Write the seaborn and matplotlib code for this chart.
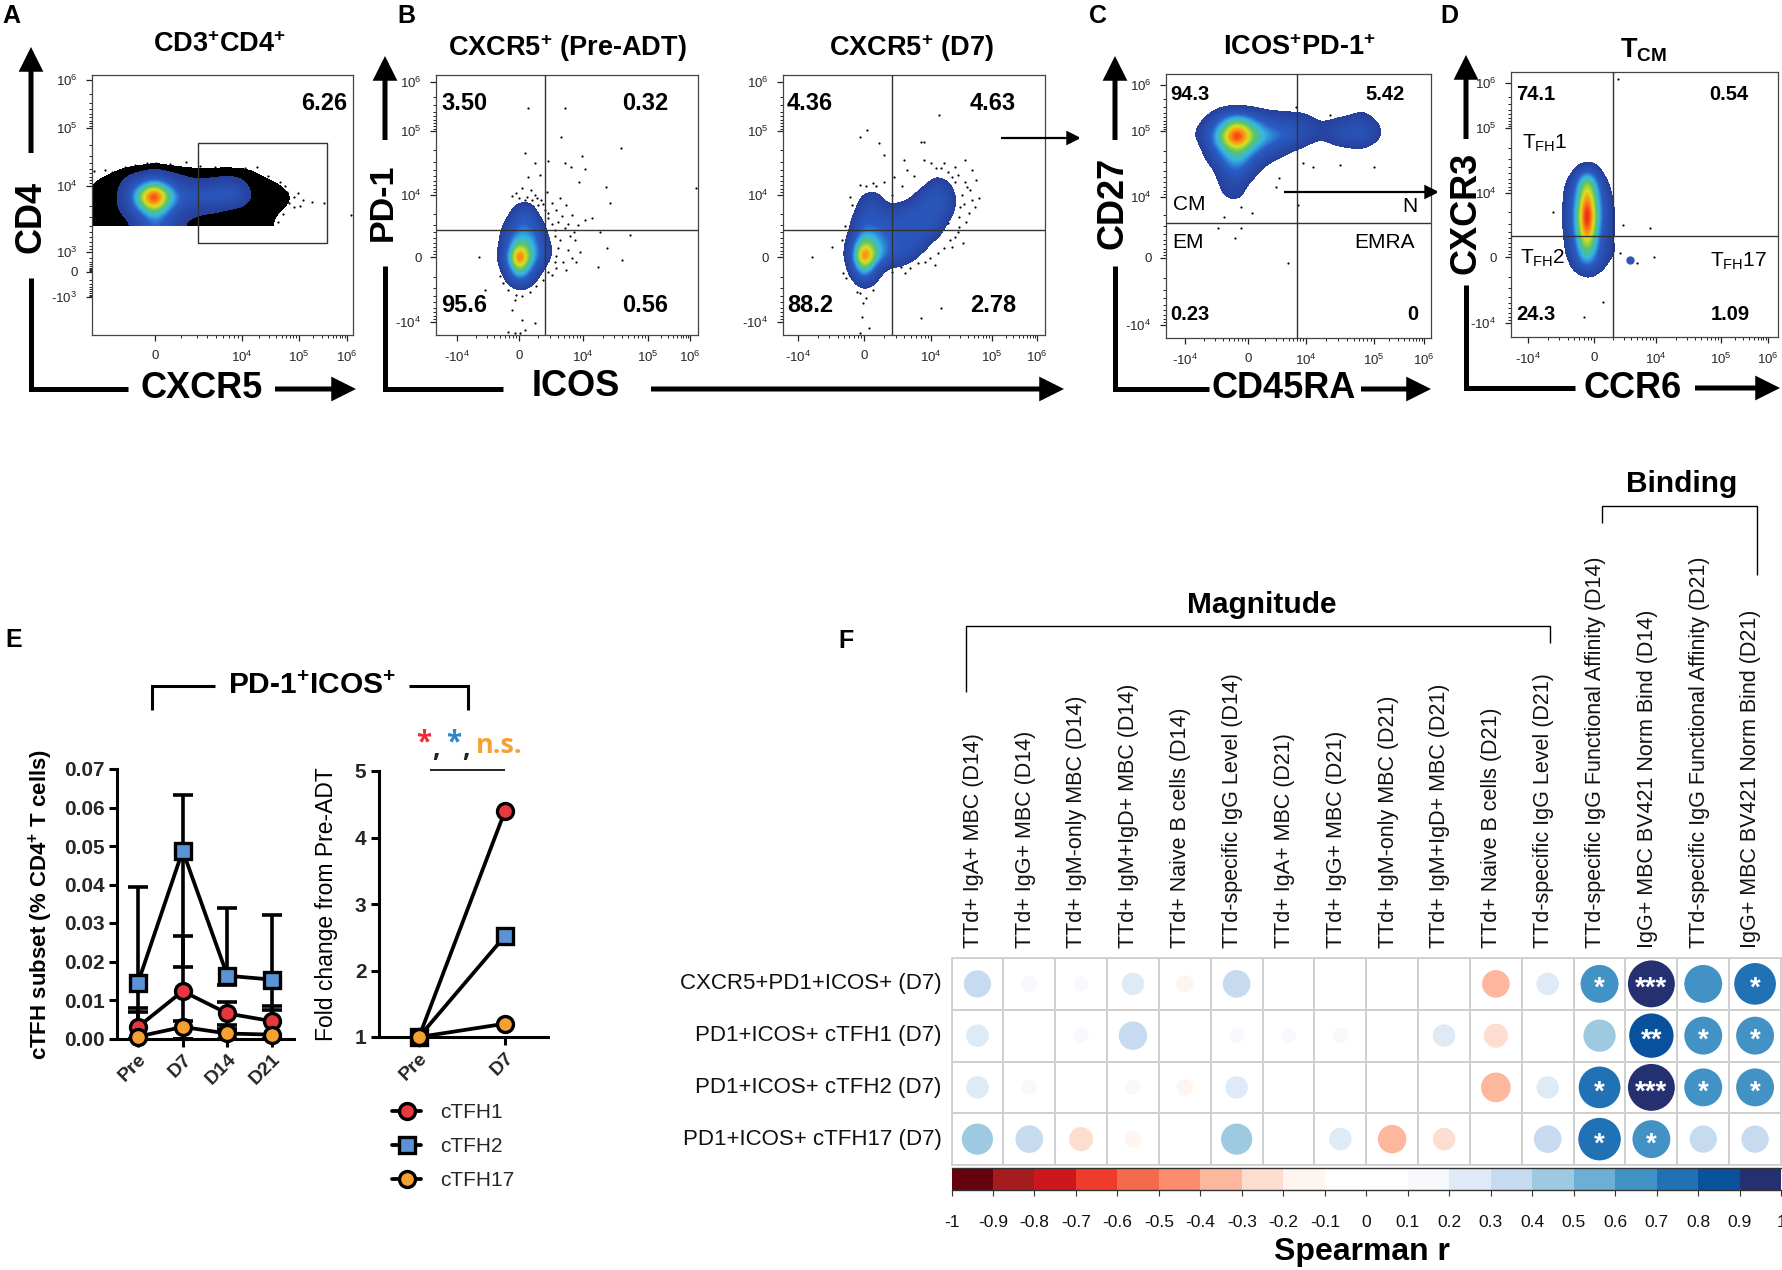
import numpy as np
import pandas as pd
import seaborn as sns
import matplotlib
matplotlib.use("Agg")
import matplotlib.pyplot as plt
from matplotlib.colors import ListedColormap, LinearSegmentedColormap
from matplotlib.lines import Line2D
from matplotlib.patches import Rectangle

W, H = 1782, 1270

# ---- flow panels: density tables (picture pixel units)
dens_A_x = [83 + 12 * i for i in range(21)]
dens_A_y = [160, 172, 184, 196, 208, 220]
dens_A = [
    [0, 0, 0, 0, 0, 0, 0, 0, 0, 0, 0, 0, 0, 0, 0, 0, 0, 0, 0, 0, 0],
    [0, 1, 3, 5, 7, 9, 13, 9, 7, 6, 6, 6, 6, 6, 5, 3, 1, 0, 0, 0, 0],
    [2, 5, 7, 8, 20, 34, 46, 32, 20, 14, 13, 15, 18, 15, 7, 6, 5, 3, 1, 0, 0],
    [3, 6, 7, 9, 30, 70, 100, 60, 32, 28, 30, 32, 33, 28, 9, 7, 6, 5, 3, 1, 0],
    [3, 6, 7, 9, 22, 46, 65, 40, 24, 17, 13, 12, 9, 7, 6, 6, 5, 4, 2, 0, 0],
    [2, 5, 6, 7, 9, 22, 34, 24, 12, 8, 7, 7, 6, 6, 6, 5, 4, 2, 0, 0, 0],
]
dens_B1_x = [489, 499, 509, 519, 529, 539, 549, 559]
dens_B1_y = [197, 209, 221, 233, 245, 257, 269, 281, 293]
dens_B1 = [
    [0, 0, 0, 0, 0, 0, 0, 0],
    [0, 0, 4, 22, 24, 4, 0, 0],
    [0, 2, 16, 30, 30, 16, 2, 0],
    [0, 7, 26, 36, 36, 28, 6, 0],
    [0, 10, 30, 55, 48, 30, 14, 0],
    [0, 12, 38, 100, 55, 32, 15, 0],
    [0, 8, 28, 60, 38, 18, 2, 0],
    [0, 0, 16, 30, 22, 6, 0, 0],
    [0, 0, 0, 4, 2, 0, 0, 0],
]
dens_B2_x = [840 + 12 * i for i in range(12)]
dens_B2_y = [172 + 12 * i for i in range(12)]
dens_B2 = [
    [0, 0, 0, 0, 0, 0, 0, 0, 4, 0, 0, 0],
    [0, 0, 0, 4, 0, 0, 0, 6, 22, 14, 0, 0],
    [0, 0, 14, 16, 2, 0, 8, 24, 26, 22, 4, 0],
    [0, 4, 22, 24, 14, 18, 24, 26, 26, 22, 3, 0],
    [0, 10, 28, 26, 24, 26, 26, 26, 26, 12, 0, 0],
    [0, 14, 38, 34, 28, 26, 26, 26, 20, 3, 0, 0],
    [2, 22, 65, 45, 30, 26, 26, 18, 4, 0, 0, 0],
    [3, 25, 100, 50, 30, 26, 18, 5, 0, 0, 0, 0],
    [0, 18, 60, 25, 8, 8, 2, 0, 0, 0, 0, 0],
    [0, 8, 28, 12, 0, 0, 0, 0, 0, 0, 0, 0],
    [0, 0, 6, 2, 0, 0, 0, 0, 0, 0, 0, 0],
    [0, 0, 0, 0, 0, 0, 0, 0, 0, 0, 0, 0],
]
dens_C_x = [1195 + 14 * i for i in range(15)]
dens_C_y = [101 + 12 * i for i in range(10)]
dens_C = [
    [0, 0, 0, 0, 0, 0, 0, 0, 0, 0, 0, 0, 0, 0, 0],
    [0, 8, 22, 28, 22, 14, 12, 11, 10, 2, 4, 6, 14, 2, 0],
    [6, 22, 42, 68, 48, 32, 26, 24, 20, 12, 18, 22, 24, 14, 0],
    [8, 26, 60, 100, 60, 42, 36, 28, 20, 12, 20, 24, 26, 16, 0],
    [2, 20, 42, 60, 42, 28, 18, 12, 6, 1, 6, 8, 10, 2, 0],
    [0, 12, 30, 45, 28, 14, 8, 2, 0, 0, 0, 0, 0, 0, 0],
    [0, 0, 22, 30, 18, 3, 0, 0, 0, 0, 0, 0, 0, 0, 0],
    [0, 0, 14, 20, 6, 0, 0, 0, 0, 0, 0, 0, 0, 0, 0],
    [0, 0, 10, 16, 2, 0, 0, 0, 0, 0, 0, 0, 0, 0, 0],
    [0, 0, 0, 0, 0, 0, 0, 0, 0, 0, 0, 0, 0, 0, 0],
]
dens_D_x = [1557 + 10 * i for i in range(8)]
dens_D_y = [157 + 12 * i for i in range(12)]
dens_D = [
    [0, 0, 0, 0, 0, 0, 0, 0],
    [0, 0, 14, 26, 16, 0, 0, 0],
    [0, 10, 30, 62, 34, 10, 0, 0],
    [0, 16, 36, 78, 40, 18, 2, 0],
    [0, 18, 40, 92, 44, 20, 6, 0],
    [0, 18, 42, 100, 46, 20, 8, 0],
    [0, 18, 40, 92, 42, 18, 8, 0],
    [0, 14, 36, 72, 38, 16, 7, 0],
    [0, 12, 30, 56, 32, 16, 10, 0],
    [0, 4, 24, 36, 24, 10, 2, 0],
    [0, 0, 3, 10, 6, 0, 0, 0],
    [0, 0, 0, 0, 0, 0, 0, 0],
]

# single events outside the density
dots_A = [(275, 197), (282, 200), (287, 192), (294, 197), (289, 203), (303, 200), (312, 202), (324, 203), (351, 215),
          (271, 187), (275, 213), (269, 220), (112, 172), (94, 171), (186, 162), (156, 163), (147, 163), (230, 170),
          (257, 167), (280, 182), (298, 193), (87, 187), (92, 213), (99, 222), (294, 207), (125, 167), (135, 165),
          (170, 164), (200, 166), (215, 167), (245, 168), (268, 176), (285, 186), (300, 206), (283, 214), (278, 222),
          (90, 200), (88, 220), (105, 170)]
dots_B1 = [(528, 108), (565, 108), (561, 137), (621, 148), (525, 153), (582, 156), (535, 163), (548, 161), (565, 163),
           (571, 167), (585, 169), (528, 177), (579, 182), (606, 187), (696, 188), (540, 175), (531, 190), (516, 193),
           (522, 188), (527, 197), (535, 195), (541, 200), (547, 192), (552, 203), (556, 210), (560, 198), (548, 213),
           (558, 222), (566, 205), (572, 215), (578, 225), (585, 220), (592, 218), (600, 232), (610, 203), (575, 240),
           (568, 250), (560, 240), (563, 262), (572, 258), (580, 252), (556, 268), (552, 275), (607, 248), (630, 235),
           (598, 267), (622, 260), (555, 230), (565, 228), (570, 236), (545, 210), (538, 205), (479, 257), (485, 290),
           (515, 300), (512, 310), (522, 320), (535, 323), (508, 332), (515, 333), (520, 333), (525, 330),
           (512, 196), (519, 198), (525, 200), (532, 200), (537, 198), (543, 204), (548, 218), (552, 224), (555, 236),
           (558, 248), (556, 256), (555, 262), (548, 272), (543, 280), (536, 286), (530, 292), (522, 296), (516, 295),
           (508, 290), (503, 283), (500, 276), (562, 216), (568, 224), (574, 232), (576, 262), (566, 270)]
dots_B2 = [(867, 130), (860, 137), (939, 115), (879, 143), (884, 155), (904, 160), (921, 142), (965, 160), (972, 170),
           (955, 167), (976, 180), (979, 198), (967, 187), (960, 207), (969, 213), (959, 227), (955, 237), (952, 247),
           (938, 253), (918, 263), (901, 267), (924, 160), (941, 168), (907, 170), (894, 177), (884, 182), (873, 183),
           (860, 185), (850, 197), (832, 247), (812, 257), (843, 273), (860, 293), (873, 290), (863, 303), (862, 317),
           (869, 328), (860, 333), (921, 318), (941, 308), (948, 223), (959, 217), (972, 200), (924, 142), (931, 163),
           (952, 177), (962, 195), (955, 182), (936, 168), (948, 172), (958, 175), (965, 182), (964, 204), (966, 222),
           (958, 232), (950, 240), (944, 248), (930, 258), (925, 262), (910, 268), (892, 272), (914, 176), (902, 186),
           (892, 195), (944, 163), (970, 190), (975, 207), (963, 243), (935, 265), (905, 273), (857, 292), (866, 298),
           (845, 226), (842, 240), (876, 186), (866, 186), (852, 205), (846, 278)]
dots_C = [(1296, 107), (1330, 115), (1347, 117), (1241, 207), (1252, 213), (1224, 217), (1218, 228), (1241, 228),
          (1235, 238), (1279, 178), (1276, 187), (1303, 163), (1313, 167), (1340, 165), (1374, 167), (1288, 263),
          (1298, 205)]
dots_D = [(1618, 79), (1553, 212), (1623, 225), (1650, 228), (1654, 257), (1637, 263), (1603, 302), (1584, 317),
          (1592, 163), (1620, 253)]
spot_D = (1630, 260)

# ---- panel E
time_long = ["Pre", "D7", "D14", "D21"]
time_short = ["Pre", "D7"]
subsets = ["cTFH1", "cTFH2", "cTFH17"]
subset_colors = {"cTFH1": "#e8383f", "cTFH2": "#5b94d6", "cTFH17": "#f5a033"}
subset_markers = {"cTFH1": "o", "cTFH2": "s", "cTFH17": "o"}
mean_cTFH1 = [0.0030, 0.0123, 0.0065, 0.0045]
mean_cTFH2 = [0.0145, 0.0488, 0.0163, 0.0153]
mean_cTFH17 = [0.0005, 0.0030, 0.0013, 0.0010]
upper_cTFH1 = [0.0078, 0.0265, 0.0095, 0.0085]
upper_cTFH2 = [0.0393, 0.0633, 0.0340, 0.0322]
upper_cTFH17 = [0.0068, 0.0045, 0.0025, 0.0075]
lower_cTFH1 = [0.0, 0.0, 0.0035, 0.0]
lower_cTFH2 = [0.0, 0.0185, 0.0138, 0.0]
lower_cTFH17 = [0.0, 0.0, 0.0, 0.0]
fold_cTFH1 = [1, 4.4]
fold_cTFH2 = [1, 2.52]
fold_cTFH17 = [1, 1.2]

# ---- panel F
row_labels = ["CXCR5+PD1+ICOS+ (D7)", "PD1+ICOS+ cTFH1 (D7)", "PD1+ICOS+ cTFH2 (D7)", "PD1+ICOS+ cTFH17 (D7)"]
col_labels = ["TTd+ IgA+ MBC (D14)", "TTd+ IgG+ MBC (D14)", "TTd+ IgM-only MBC (D14)", "TTd+ IgM+IgD+ MBC (D14)",
              "TTd+ Naive B cells (D14)", "TTd-specific IgG Level (D14)", "TTd+ IgA+ MBC (D21)", "TTd+ IgG+ MBC (D21)",
              "TTd+ IgM-only MBC (D21)", "TTd+ IgM+IgD+ MBC (D21)", "TTd+ Naive B cells (D21)",
              "TTd-specific IgG Level (D21)", "TTd-specific IgG Functional Affinity (D14)",
              "IgG+ MBC BV421 Norm Bind (D14)", "TTd-specific IgG Functional Affinity (D21)",
              "IgG+ MBC BV421 Norm Bind (D21)"]
corr_r = [
    [0.32, 0.11, 0.10, 0.22, -0.13, 0.33, 0, 0.09, 0, 0.08, -0.33, 0.22, 0.62, 0.95, 0.62, 0.75],
    [0.22, 0, 0.10, 0.35, 0, 0.10, 0.10, 0.10, 0, 0.22, -0.25, 0, 0.45, 0.85, 0.62, 0.62],
    [0.22, 0.10, 0, 0.10, -0.12, 0.22, 0, 0, 0, 0, -0.38, 0.22, 0.75, 0.95, 0.62, 0.62],
    [0.42, 0.33, -0.25, -0.13, 0, 0.42, 0, 0.22, -0.35, -0.22, 0, 0.33, 0.78, 0.62, 0.32, 0.32],
]
corr_sig = [
    ["", "", "", "", "", "", "", "", "", "", "", "", "*", "***", "", "*"],
    ["", "", "", "", "", "", "", "", "", "", "", "", "", "**", "*", "*"],
    ["", "", "", "", "", "", "", "", "", "", "", "", "*", "***", "*", "*"],
    ["", "", "", "", "", "", "", "", "", "", "", "", "*", "*", "", ""],
]
cbar_colors = ["#67000d", "#a51c1e", "#cb181d", "#ef3b2c", "#f46a4c", "#fb8d6e", "#fcb79d", "#fdddcf", "#fff5f0",
               "#ffffff", "#ffffff", "#f7f9fd", "#deebf7", "#c6dbef", "#9ecae1", "#6baed6", "#4292c6", "#2171b5",
               "#08519c", "#253070"]
cbar_ticks = ["-1", "-0.9", "-0.8", "-0.7", "-0.6", "-0.5", "-0.4", "-0.3", "-0.2", "-0.1", "0", "0.1", "0.2", "0.3",
              "0.4", "0.5", "0.6", "0.7", "0.8", "0.9", "1"]

sns.set_theme(style="ticks")
plt.rcParams["font.family"] = ["Liberation Sans", "DejaVu Sans"]
plt.rcParams["mathtext.fontset"] = "custom"
plt.rcParams["mathtext.rm"] = "Liberation Sans"
plt.rcParams["mathtext.it"] = "Liberation Sans:italic"
plt.rcParams["mathtext.bf"] = "Liberation Sans:bold"

fig = plt.figure(figsize=(W / 100, H / 100), dpi=100, facecolor="white")


def px_ax(x0, y0, x1, y1):
    return fig.add_axes([x0 / W, 1 - y1 / H, (x1 - x0) / W, (y1 - y0) / H])


flow_cmap = LinearSegmentedColormap.from_list(
    "flow", [(0, "#27409b"), (0.22, "#2a5cc4"), (0.34, "#35b5e5"), (0.46, "#5cc46a"),
             (0.58, "#d8e020"), (0.68, "#ff8c10"), (0.8, "#e8101a"), (1, "#e8101a")])
flow_cmap.set_under((0, 0, 0, 0))
halo_cmap = ListedColormap(["black"])
halo_cmap.set_under((0, 0, 0, 0))


def minors(majors):
    out = []
    for a, b in zip(majors[:-1], majors[1:]):
        out += [a + (b - a) * np.log10(k) for k in range(2, 10)]
    return out


def flow_panel(box, xt, xl, yt, yl, dens=None, dx=None, dy=None, dots=(), cross=None, halo=False):
    ax = px_ax(*box)
    if dens is not None:
        sx = dx[1] - dx[0]
        sy = dy[1] - dy[0]
        ext = (dx[0] - sx / 2, dx[-1] + sx / 2, dy[-1] + sy / 2, dy[0] - sy / 2)
        if halo:
            ax.imshow(np.array(dens, float), cmap=halo_cmap, vmin=4, vmax=9, extent=ext, aspect="auto",
                      interpolation="bicubic", zorder=1)
        ax.imshow(np.array(dens, float), cmap=flow_cmap, vmin=10, vmax=100, extent=ext, aspect="auto",
                  interpolation="bicubic", zorder=2)
    if len(dots):
        d = pd.DataFrame(dots, columns=["x", "y"])
        sns.scatterplot(data=d, x="x", y="y", color="black", s=2.5, linewidth=0, ax=ax, zorder=1)
    if cross is not None:
        ax.axvline(cross[0], color="#333333", lw=1, zorder=3)
        ax.axhline(cross[1], color="#333333", lw=1, zorder=3)
    ax.set_xlim(box[0], box[2])
    ax.set_ylim(box[3], box[1])
    ax.set_xlabel("")
    ax.set_ylabel("")
    ax.set_xticks(xt)
    ax.set_xticklabels(xl, fontsize=9.5)
    ax.set_yticks(yt)
    ax.set_yticklabels(yl, fontsize=9.5)
    ax.set_xticks([v for v in minors(xt) if box[0] < v < box[2]], minor=True)
    ax.set_yticks([v for v in minors(yt) if box[1] < v < box[3]], minor=True)
    ax.tick_params(which="major", length=4.5, width=0.9, pad=6, color="#222222")
    ax.tick_params(which="minor", length=2.5, width=0.7, color="#222222")
    for s in ax.spines.values():
        s.set_visible(True)
        s.set_linewidth(0.9)
        s.set_color("#444444")
    return ax


P4, P5, P6, M4, M3, P3 = "10$^{4}$", "10$^{5}$", "10$^{6}$", "-10$^{4}$", "-10$^{3}$", "10$^{3}$"

ax_a = flow_panel((92, 75, 353, 335), [155, 242, 299, 347], ["0", P4, P5, P6],
                  [80, 128, 186, 252, 272, 297], [P6, P5, P4, P3, "0", M3],
                  dens_A, dens_A_x, dens_A_y, dots_A, halo=True)
ax_a.add_patch(Rectangle((198, 143), 129, 100, fill=False, ec="#333333", lw=1, zorder=3))
flow_panel((436, 75, 698, 335), [457, 519, 583, 648, 690], [M4, "0", P4, P5, P6],
           [82, 131, 195, 257, 322], [P6, P5, P4, "0", M4],
           dens_B1, dens_B1_x, dens_B1_y, dots_B1, (545, 230))
flow_panel((783, 75, 1045, 335), [798, 864, 931, 992, 1037], [M4, "0", P4, P5, P6],
           [82, 131, 195, 257, 322], [P6, P5, P4, "0", M4],
           dens_B2, dens_B2_x, dens_B2_y, dots_B2, (892, 230))
flow_panel((1166, 74, 1431, 338), [1185, 1248, 1306, 1374, 1424], [M4, "0", P4, P5, P6],
           [85, 131, 197, 258, 325], [P6, P5, P4, "0", M4],
           dens_C, dens_C_x, dens_C_y, dots_C, (1297, 223))
ax_d = flow_panel((1511, 72, 1778, 337), [1528, 1594, 1656, 1721, 1768], [M4, "0", P4, P5, P6],
                  [83, 128, 193, 257, 323], [P6, P5, P4, "0", M4],
                  dens_D, dens_D_x, dens_D_y, dots_D, (1613, 236))
ax_d.plot(*spot_D, marker="o", ms=6, color="#2f55b5", mec="none", zorder=2)

# ---- panel E, time course
df_long = pd.DataFrame({
    "subset": np.repeat(subsets, 4),
    "pos": list(range(4)) * 3,
    "value": mean_cTFH1 + mean_cTFH2 + mean_cTFH17,
})
df_fold = pd.DataFrame({
    "subset": np.repeat(subsets, 2),
    "pos": [0, 1] * 3,
    "value": fold_cTFH1 + fold_cTFH2 + fold_cTFH17,
})
uppers = {"cTFH1": upper_cTFH1, "cTFH2": upper_cTFH2, "cTFH17": upper_cTFH17}
lowers = {"cTFH1": lower_cTFH1, "cTFH2": lower_cTFH2, "cTFH17": lower_cTFH17}
draw_order = ["cTFH2", "cTFH1", "cTFH17"]


def style_e(ax):
    sns.despine(ax=ax)
    for s in ["left", "bottom"]:
        ax.spines[s].set_linewidth(2.2)
        ax.spines[s].set_color("black")
    ax.tick_params(axis="both", width=2.2, length=6, color="black", pad=3)
    for t in ax.get_yticklabels():
        t.set_fontsize(15)
        t.set_fontweight("bold")
    for t in ax.get_xticklabels():
        t.set_fontsize(14)
        t.set_fontweight("bold")
        t.set_rotation(45)
        t.set_ha("right")
        t.set_rotation_mode("anchor")


ax_e1 = px_ax(117, 769, 294, 1038.5)
for name in draw_order:
    sub = df_long[df_long["subset"] == name]
    m = sub["value"].values
    ax_e1.errorbar(sub["pos"], m, yerr=[np.clip(m - np.array(lowers[name]), 0, None), np.array(uppers[name]) - m],
                   fmt="none", ecolor="black", elinewidth=2.6, capsize=7, capthick=2.6, zorder=2, clip_on=False)
for i, name in enumerate(draw_order):
    sub = df_long[df_long["subset"] == name]
    sns.lineplot(data=sub, x="pos", y="value", color="black", lw=2.7, marker=subset_markers[name], ms=11.5,
                 mfc=subset_colors[name], mec="black", mew=2.4, errorbar=None, ax=ax_e1, zorder=3 + i, clip_on=False)
ax_e1.set_xlim(-0.47, 3.49)
ax_e1.set_ylim(0, 0.07)
ax_e1.set_xticks(range(4))
ax_e1.set_xticklabels(time_long)
ax_e1.set_yticks(np.arange(0, 0.071, 0.01))
ax_e1.set_yticklabels(["0.00", "0.01", "0.02", "0.03", "0.04", "0.05", "0.06", "0.07"])
ax_e1.set_xlabel("")
ax_e1.set_ylabel("")
style_e(ax_e1)

ax_e2 = px_ax(379, 771, 548, 1037)
for i, name in enumerate(draw_order):
    sub = df_fold[df_fold["subset"] == name]
    sns.lineplot(data=sub, x="pos", y="value", color="black", lw=2.7, marker=subset_markers[name], ms=11.5,
                 mfc=subset_colors[name], mec="black", mew=2.4, errorbar=None, ax=ax_e2, zorder=3 + i, clip_on=False)
ax_e2.set_xlim(-0.465, 1.5)
ax_e2.set_ylim(1, 5)
ax_e2.set_xticks(range(2))
ax_e2.set_xticklabels(time_short)
ax_e2.set_yticks([1, 2, 3, 4, 5])
ax_e2.set_xlabel("")
ax_e2.set_ylabel("")
style_e(ax_e2)

handles = [Line2D([], [], color="black", lw=2.7, marker=subset_markers[n], ms=11.5, mfc=subset_colors[n], mec="black",
                  mew=2.4) for n in subsets]
fig.legend(handles, subsets, loc="upper left", bbox_to_anchor=(392 / W, 1 - 1103 / H), frameon=False, fontsize=15,
           handlelength=1.4, handletextpad=0.9, labelspacing=0.72, borderpad=0, borderaxespad=0)

# ---- panel F, correlation grid
df_corr = pd.DataFrame(corr_r, columns=col_labels).assign(row=range(4)).melt(id_vars="row", var_name="col", value_name="r")
df_corr["cx"] = df_corr["col"].map({c: i + 0.5 for i, c in enumerate(col_labels)})
df_corr["cy"] = df_corr["row"] + 0.5
df_corr["mag"] = df_corr["r"].abs()

ax_f = px_ax(951.5, 958, 1781, 1165)
sns.heatmap(np.zeros((4, 16)), cmap=ListedColormap(["white"]), cbar=False, linewidths=1.1, linecolor="#cfcfcf",
            xticklabels=col_labels, yticklabels=row_labels, ax=ax_f)
sns.scatterplot(data=df_corr[df_corr["mag"] > 0], x="cx", y="cy", hue="r", palette=ListedColormap(cbar_colors),
                hue_norm=(-1, 1), size="mag", sizes=(0, 1200), size_norm=(0, 1), linewidth=0, legend=False,
                ax=ax_f, zorder=3)
ax_f.set_xlim(0, 16)
ax_f.set_ylim(4, 0)
ax_f.set_xlabel("")
ax_f.set_ylabel("")
ax_f.xaxis.tick_top()
ax_f.set_xticks(np.arange(16) + 0.42)
ax_f.set_xticklabels(col_labels, rotation=90, fontsize=15.5, color="#111111")
ax_f.set_yticklabels(row_labels, rotation=0, fontsize=16, color="#111111")
ax_f.tick_params(axis="both", length=0, pad=7)
for s in ax_f.spines.values():
    s.set_visible(True)
    s.set_color("#cfcfcf")
for i, row in enumerate(corr_sig):
    for j, mark in enumerate(row):
        if mark:
            ax_f.text(j + 0.5, i + 0.6, mark, color="white", fontsize=20, fontweight="bold", ha="center", va="center",
                      zorder=4)

ax_cb = px_ax(951.5, 1168, 1781, 1190)
sns.heatmap(np.arange(20).reshape(1, 20), cmap=ListedColormap(cbar_colors), cbar=False, xticklabels=False,
            yticklabels=False, ax=ax_cb)
ax_cb.set_xticks(np.arange(21))
ax_cb.set_xticklabels(cbar_ticks, fontsize=12.5, rotation=0, color="#111111")
ax_cb.tick_params(axis="x", length=4, width=0.8, pad=14, color="#333333")
ax_cb.tick_params(axis="y", length=0)
ax_cb.spines["top"].set_visible(True)
ax_cb.spines["bottom"].set_visible(True)
ax_cb.spines["top"].set_linewidth(1)
ax_cb.spines["bottom"].set_linewidth(1)
ax_cb.spines["top"].set_color("#333333")
ax_cb.spines["bottom"].set_color("#333333")

# ---- overlay for annotation in picture pixels
ov = px_ax(0, 0, W, H)
ov.set_xlim(0, W)
ov.set_ylim(H, 0)
ov.axis("off")
ov.patch.set_alpha(0)
ov.set_zorder(10)


def txt(x, y, s, size, weight="normal", color="black", rot=0, family=None, ha="center"):
    kw = {"family": family} if family else {}
    ov.text(x, y, s, fontsize=size, fontweight=weight, color=color, rotation=rot, ha=ha, va="center", **kw)


def arrow(x0, y0, x1, y1, lw=3.6, head=(0.6, 0.3), scale=20):
    ov.annotate("", xy=(x1, y1), xytext=(x0, y0),
                arrowprops=dict(arrowstyle=f"-|>,head_length={head[0]},head_width={head[1]}", lw=lw, color="black",
                                shrinkA=0, shrinkB=0, mutation_scale=scale, joinstyle="miter", capstyle="butt"))


def line(xs, ys, lw=3.6):
    ov.plot(xs, ys, color="black", lw=lw, solid_capstyle="butt", solid_joinstyle="miter")


for letter, lx, ly in [("A", 11, 16), ("B", 406, 16), ("C", 1098, 16), ("D", 1449, 16), ("E", 14, 640), ("F", 846, 641)]:
    txt(lx, ly, letter, 18, "bold")

txt(220, 45, r"CD3$^{\mathbf{+}}$CD4$^{\mathbf{+}}$", 19.5, "bold")
txt(567, 48, r"CXCR5$^{\mathbf{+}}$ (Pre-ADT)", 19.5, "bold")
txt(911, 48, r"CXCR5$^{\mathbf{+}}$ (D7)", 19.5, "bold")
txt(1299, 48, r"ICOS$^{\mathbf{+}}$PD-1$^{\mathbf{+}}$", 19.5, "bold")
txt(1644, 50, r"T$_{\mathbf{CM}}$", 19.5, "bold")

# axis arrows
line([31, 31, 128], [278, 389, 389])
arrow(31, 153, 31, 47)
arrow(275, 389, 356, 389)
txt(202, 388, "CXCR5", 26, "bold")
txt(31, 217, "CD4", 26, "bold", rot=90)

line([385, 385, 503], [266, 389, 389])
arrow(385, 140, 385, 56)
arrow(651, 389, 1064, 389)
txt(576, 386, "ICOS", 26, "bold")
txt(383, 202, "PD-1", 24.5, "bold", rot=90)

line([1115, 1115, 1209], [266, 389, 389])
arrow(1115, 140, 1115, 56)
arrow(1361, 389, 1431, 389)
txt(1284, 388, "CD45RA", 26, "bold")
txt(1113, 203, "CD27", 26, "bold", rot=90)

line([1466, 1466, 1575], [285, 388, 388])
arrow(1466, 139, 1466, 55)
arrow(1695, 388, 1780, 388)
txt(1633, 388, "CCR6", 26, "bold")
txt(1466, 213, "CXCR3", 26, "bold", rot=90)

arrow(1001, 138, 1081, 138, lw=1.6, head=(0.5, 0.25), scale=16)
arrow(1284, 192, 1439, 192, lw=1.6, head=(0.5, 0.25), scale=16)

for x, y, s in [(324, 103, "6.26"), (464, 103, "3.50"), (645, 103, "0.32"), (464, 306, "95.6"), (645, 306, "0.56"),
                (810, 103, "4.36"), (993, 103, "4.63"), (810, 306, "88.2"), (993, 306, "2.78")]:
    txt(x, y, s, 17, "bold")
for x, y, s in [(1190, 95, "94.3"), (1385, 95, "5.42"), (1190, 315, "0.23"), (1413, 315, "0"),
                (1536, 94, "74.1"), (1729, 94, "0.54"), (1536, 314, "24.3"), (1730, 314, "1.09")]:
    txt(x, y, s, 14.5, "bold")
for x, y, s in [(1189, 205, "CM"), (1410, 206, "N"), (1188, 242, "EM"), (1385, 242, "EMRA"),
                (1545, 143, "T$_{FH}$1"), (1543, 258, "T$_{FH}$2"), (1739, 261, "T$_{FH}$17")]:
    if "FH" in s:
        s = s.replace("FH", r"\mathrm{FH}")
    txt(x, y, s, 15)

# panel E annotation
txt(312, 686, r"PD-1$^{\mathbf{+}}$ICOS$^{\mathbf{+}}$", 21.5, "bold")
line([152, 152, 215], [710, 686, 686], lw=2.2)
line([409, 468, 468], [686, 686, 710], lw=2.2)
txt(41, 904, r"cTFH subset (% CD4$^{\mathbf{+}}$ T cells)", 16, "bold", rot=90)
txt(327, 904, "Fold change from Pre-ADT", 16.5, rot=90)
txt(424, 743, "*", 20, "bold", "#ee2b3a", family="Open Sans")
txt(436, 749, ",", 19, "bold", "#222222", family="Open Sans")
txt(454, 743, "*", 20, "bold", "#2d85c8", family="Open Sans")
txt(466, 749, ",", 19, "bold", "#222222", family="Open Sans")
txt(499, 746, "n.s.", 19.5, "bold", "#f5a033", family="Open Sans")
line([430, 505], [770, 770], lw=1.2)

# panel F annotation
line([966, 966, 1550, 1550], [692, 626, 626, 643], lw=1)
txt(1262, 605, "Magnitude", 21.5, "bold")
line([1602, 1602, 1757, 1757], [523, 506, 506, 575], lw=1)
txt(1682, 484, "Binding", 21.5, "bold")
txt(1362, 1252, "Spearman r", 23, "bold")

fig.savefig("out.png", dpi=100)
